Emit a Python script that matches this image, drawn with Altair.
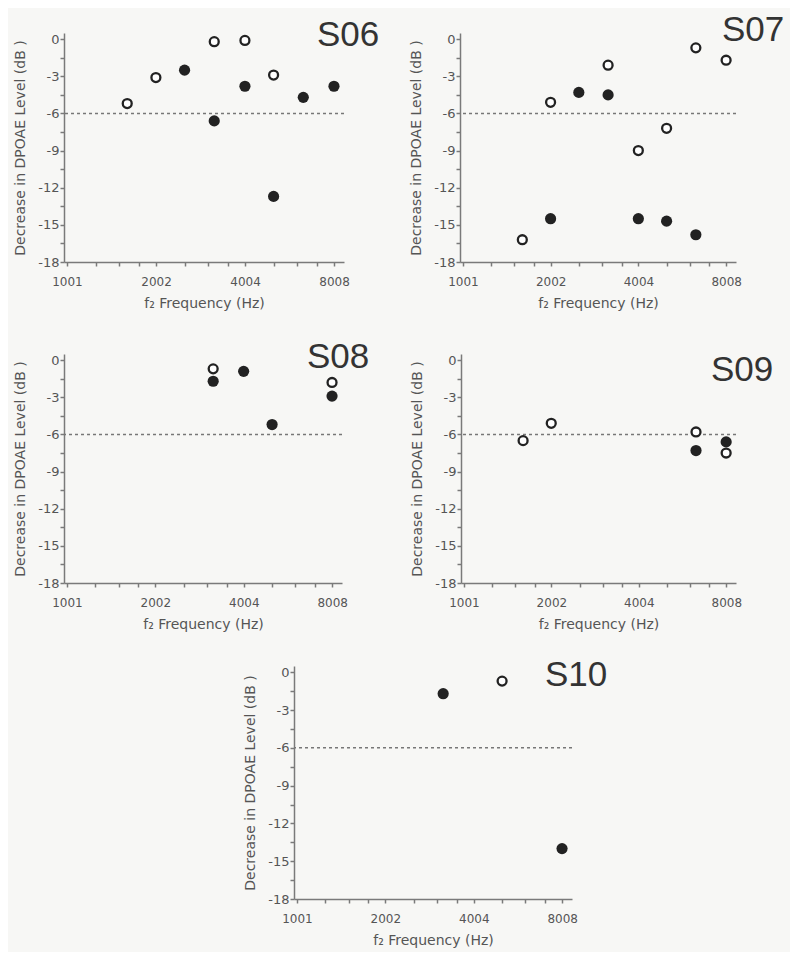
import altair as alt
import pandas as pd

# ---- data (frequency in Hz, decrease in dB) ----
s06_open_f = [1600, 2000, 3150, 4000, 5000]
s06_open_v = [-5.2, -3.1, -0.2, -0.1, -2.9]
s06_fill_f = [2500, 3150, 4000, 5000, 6300, 8000]
s06_fill_v = [-2.5, -6.6, -3.8, -12.7, -4.7, -3.8]

s07_open_f = [1600, 2000, 3150, 4000, 5000, 6300, 8000]
s07_open_v = [-16.2, -5.1, -2.1, -9.0, -7.2, -0.7, -1.7]
s07_fill_f = [2000, 2500, 3150, 4000, 5000, 6300]
s07_fill_v = [-14.5, -4.3, -4.5, -14.5, -14.7, -15.8]

s08_open_f = [3150, 8000]
s08_open_v = [-0.7, -1.8]
s08_fill_f = [3150, 4000, 5000, 8000]
s08_fill_v = [-1.7, -0.9, -5.2, -2.9]

s09_open_f = [1600, 2000, 6300, 8000]
s09_open_v = [-6.5, -5.1, -5.8, -7.5]
s09_fill_f = [6300, 8000]
s09_fill_v = [-7.3, -6.6]

s10_open_f = [5000]
s10_open_v = [-0.7]
s10_fill_f = [3150, 8000]
s10_fill_v = [-1.7, -14.0]

criterion = [-6]
x_major = [1001, 2002, 4004, 8008]
x_minor = [1251.25, 1501.5, 1751.75, 2502.5, 3003, 3503.5, 5005, 6006, 7007]
y_ticks = [0, -1.5, -3, -4.5, -6, -7.5, -9, -10.5, -12, -13.5, -15, -16.5, -18]

AX = "#7a7a7a"
LBL = "#555555"
FONT = "DejaVu Sans"


def panel(name, of, ov, ff, fv, w, h, tx, ty):
    xs = alt.Scale(type="log", base=2, domain=[978, 8650], nice=False)
    ys = alt.Scale(domain=[-18, 0.5], nice=False, zero=False)
    xaxis = alt.Axis(
        values=sorted(x_major + x_minor),
        labelExpr="(datum.value==1001||datum.value==2002||datum.value==4004||datum.value==8008) ? toString(datum.value) : ''",
        labelOverlap=False, labelFlush=False, grid=False,
        labelPadding=10, titlePadding=9,
    )
    yaxis = alt.Axis(
        values=y_ticks,
        labelExpr="datum.value % 3 == 0 ? toString(datum.value) : ''",
        labelOverlap=False, grid=False, labelPadding=1, titlePadding=10,
    )
    xt = "f\u2082 Frequency (Hz)"
    yt = "Decrease in DPOAE Level (dB )"
    rule = alt.Chart(pd.DataFrame({"v": criterion})).mark_rule(
        color="#777777", strokeDash=[3, 3], strokeWidth=1.5
    ).encode(y=alt.Y("v:Q", scale=ys, axis=yaxis, title=yt))
    filled = alt.Chart(pd.DataFrame({"f": ff, "v": fv})).mark_point(
        shape="circle", filled=True, size=125, color="#222222", opacity=1
    ).encode(
        x=alt.X("f:Q", scale=xs, axis=xaxis, title=xt),
        y=alt.Y("v:Q", scale=ys, axis=yaxis, title=yt),
    )
    hollow = alt.Chart(pd.DataFrame({"f": of, "v": ov})).mark_point(
        shape="circle", filled=False, size=80, color="#222222", strokeWidth=2.3,
        fill="white", fillOpacity=1, opacity=1
    ).encode(
        x=alt.X("f:Q", scale=xs, axis=xaxis, title=xt),
        y=alt.Y("v:Q", scale=ys, axis=yaxis, title=yt),
    )
    label = alt.Chart(pd.DataFrame({"t": [name]})).mark_text(
        align="left", baseline="alphabetic", fontSize=35, font="Liberation Sans",
        color="#333333"
    ).encode(text="t:N", x=alt.value(tx), y=alt.value(ty))
    return alt.layer(rule, filled, hollow, label).properties(width=w, height=h)


p6 = panel("S06", s06_open_f, s06_open_v, s06_fill_f, s06_fill_v, 280, 229, 253, 13)
p7 = panel("S07", s07_open_f, s07_open_v, s07_fill_f, s07_fill_v, 276, 229, 262, 8)
p8 = panel("S08", s08_open_f, s08_open_v, s08_fill_f, s08_fill_v, 278, 229, 243, 14)
p9 = panel("S09", s09_open_f, s09_open_v, s09_fill_f, s09_fill_v, 275, 229, 250, 27)
p10 = panel("S10", s10_open_f, s10_open_v, s10_fill_f, s10_fill_v, 278, 233, 251, 20)

spacer = alt.Chart(pd.DataFrame({"a": [0]})).mark_point(opacity=0).properties(
    width=230, height=10
)

row1 = alt.hconcat(p6, p7, spacing=116, bounds="flush")
row2 = alt.hconcat(p8, p9, spacing=119, bounds="flush")
row3 = alt.hconcat(spacer, p10, spacing=0, bounds="flush")
top = alt.vconcat(row1, row2, spacing=30)
chart = alt.vconcat(top, row3, spacing=27).configure(
    background="#f7f7f5"
).configure_view(stroke=None).configure_axis(
    domainColor=AX, domainWidth=1.5, tickColor=AX, tickWidth=1.5, tickSize=4,
    labelColor=LBL, labelFont=FONT,
    titleColor=LBL, titleFont=FONT, titleFontSize=14, titleFontWeight="normal",
).configure_axisX(labelFontSize=12).configure_axisY(labelFontSize=13)

chart.save("out.html", embed_options={"renderer": "svg", "actions": False})
